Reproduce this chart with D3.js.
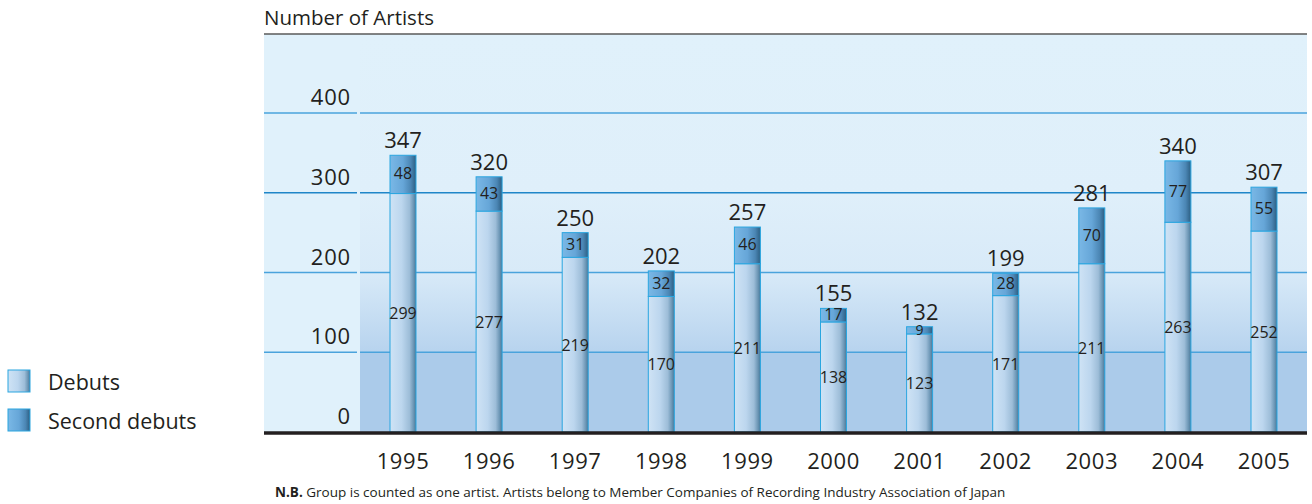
<!DOCTYPE html>
<html>
<head>
<meta charset="utf-8">
<script src="https://cdn.jsdelivr.net/npm/d3@7"></script>
<style>
  body { margin: 0; background: #fff; }
  text { font-family: "Open Sans", "Noto Sans", sans-serif; fill: #231f20; }
</style>
</head>
<body>
<div id="chart"></div>
<script>
// chart data
const years = ["1995", "1996", "1997", "1998", "1999", "2000", "2001", "2002", "2003", "2004", "2005"];
const debuts = [299, 277, 219, 170, 211, 138, 123, 171, 211, 263, 252];
const secondDebuts = [48, 43, 31, 32, 46, 17, 9, 28, 70, 77, 55];
const yTicks = [0, 100, 200, 300, 400];
const seriesNames = ["Debuts", "Second debuts"];

const width = 1312, height = 504;
const plot = {left: 264, inner: 360, right: 1307, top: 34, bottom: 432};

const svg = d3.select("#chart").append("svg")
    .attr("width", width)
    .attr("height", height);

const defs = svg.append("defs");

// background gradient for the plotting area
const bg = defs.append("linearGradient")
    .attr("id", "bg").attr("x1", 0).attr("x2", 0).attr("y1", 0).attr("y2", 1);
bg.append("stop").attr("offset", "0%").attr("stop-color", "#e0f1fb");
bg.append("stop").attr("offset", "40%").attr("stop-color", "#dfeffa");
bg.append("stop").attr("offset", "60%").attr("stop-color", "#d8eaf8");
bg.append("stop").attr("offset", "80%").attr("stop-color", "#b7d3ee");
bg.append("stop").attr("offset", "80%").attr("stop-color", "#abcbea");
bg.append("stop").attr("offset", "100%").attr("stop-color", "#abcbea");

// cylinder style gradients for the bars
function barGradient(id, stops) {
  const g = defs.append("linearGradient").attr("id", id)
      .attr("x1", 0).attr("x2", 1).attr("y1", 0).attr("y2", 0);
  stops.forEach(s => g.append("stop").attr("offset", s[0]).attr("stop-color", s[1]));
}
barGradient("gDebut", [["0%", "#cfe3f5"], ["45%", "#bcd6ee"], ["75%", "#9dbdd8"], ["90%", "#6d97b6"], ["100%", "#4a7898"]]);
barGradient("gSecond", [["0%", "#7ab8e6"], ["50%", "#66a6d8"], ["80%", "#4b86b4"], ["100%", "#2c5e82"]]);

const x = d3.scalePoint().domain(years).range([403, 1264]);
const y = d3.scaleLinear().domain([0, 400]).range([plot.bottom, 113]);
const barW = 26;

// backgrounds
svg.append("rect")
    .attr("x", plot.left).attr("y", plot.top)
    .attr("width", plot.right - plot.left).attr("height", plot.bottom - plot.top)
    .attr("fill", "#e0f1fb");
svg.append("rect")
    .attr("x", plot.inner).attr("y", plot.top)
    .attr("width", plot.right - plot.inner).attr("height", plot.bottom - plot.top)
    .attr("fill", "url(#bg)");

// top rule
svg.append("line")
    .attr("x1", plot.left).attr("x2", plot.right)
    .attr("y1", plot.top).attr("y2", plot.top)
    .attr("stroke", "#5a5a5a").attr("stroke-width", 1.5);

// gridlines, split in two segments like the original
const grid = svg.append("g");
yTicks.filter(d => d > 0).forEach(t => {
  grid.append("line")
      .attr("x1", plot.left).attr("x2", plot.inner - 3)
      .attr("y1", y(t)).attr("y2", y(t))
      .attr("stroke", t === 300 ? "#1f86c8" : "#4aa3dc").attr("stroke-width", 1.5);
  grid.append("line")
      .attr("x1", plot.inner).attr("x2", plot.right)
      .attr("y1", y(t)).attr("y2", y(t))
      .attr("stroke", t === 300 ? "#1f86c8" : "#4aa3dc").attr("stroke-width", 1.5);
});

// y tick labels
svg.append("g").selectAll("text")
    .data(yTicks)
  .join("text")
    .attr("x", 351)
    .attr("y", d => y(d) - 8)
    .attr("text-anchor", "end")
    .attr("font-size", 22)
    .attr("letter-spacing", 0.8)
    .text(d => d);

// bars
const rows = years.map((yr, i) => ({year: yr, d: debuts[i], s: secondDebuts[i], total: debuts[i] + secondDebuts[i]}));
const bars = svg.append("g").selectAll("g")
    .data(rows)
  .join("g");

bars.append("rect")
    .attr("x", d => x(d.year) - barW / 2)
    .attr("y", d => y(d.d))
    .attr("width", barW)
    .attr("height", d => y(0) - y(d.d))
    .attr("fill", "url(#gDebut)")
    .attr("stroke", "#2aa6e0").attr("stroke-width", 1);

bars.append("rect")
    .attr("x", d => x(d.year) - barW / 2)
    .attr("y", d => y(d.total))
    .attr("width", barW)
    .attr("height", d => y(d.d) - y(d.total))
    .attr("fill", "url(#gSecond)")
    .attr("stroke", "#2aa6e0").attr("stroke-width", 1);

// segment labels
bars.append("text")
    .attr("x", d => x(d.year))
    .attr("y", d => (y(d.d) + y(0)) / 2 + 6)
    .attr("text-anchor", "middle")
    .attr("font-size", 16)
    .text(d => d.d);

bars.append("text")
    .attr("x", d => x(d.year))
    .attr("y", d => (y(d.total) + y(d.d)) / 2 + 5)
    .attr("text-anchor", "middle")
    .attr("font-size", d => d.s < 10 ? 14 : 16)
    .text(d => d.s);

// totals
bars.append("text")
    .attr("x", d => x(d.year))
    .attr("y", d => y(d.total) - 7)
    .attr("text-anchor", "middle")
    .attr("font-size", 22)
    .text(d => d.total);

// baseline
svg.append("line")
    .attr("x1", plot.left).attr("x2", plot.right)
    .attr("y1", plot.bottom + 1).attr("y2", plot.bottom + 1)
    .attr("stroke", "#231f20").attr("stroke-width", 3.5);

// x labels
svg.append("g").selectAll("text")
    .data(years)
  .join("text")
    .attr("x", d => x(d))
    .attr("y", 469)
    .attr("text-anchor", "middle")
    .attr("font-size", 22)
    .attr("letter-spacing", 0.6)
    .text(d => d);

// axis title
svg.append("text")
    .attr("x", plot.left)
    .attr("y", 25)
    .attr("font-size", 20.5)
    .text("Number of Artists");

// legend
const legend = svg.append("g").selectAll("g")
    .data(seriesNames)
  .join("g")
    .attr("transform", (d, i) => `translate(8, ${370 + i * 39})`);
legend.append("rect")
    .attr("width", 22).attr("height", 22)
    .attr("fill", (d, i) => i === 0 ? "url(#gDebut)" : "url(#gSecond)")
    .attr("stroke", "#2aa6e0").attr("stroke-width", 1);
legend.append("text")
    .attr("x", 40).attr("y", 20)
    .attr("font-size", 21.5)
    .text(d => d);

// footnote
const note = svg.append("text")
    .attr("x", 275)
    .attr("y", 497)
    .attr("font-size", 13.5);
note.append("tspan").attr("font-weight", "bold").text("N.B.");
note.append("tspan").text(" Group is counted as one artist. Artists belong to Member Companies of Recording Industry Association of Japan");
</script>
</body>
</html>
